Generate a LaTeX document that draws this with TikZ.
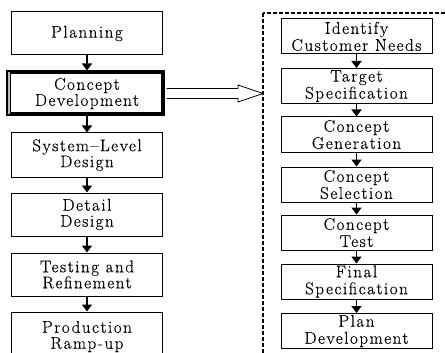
\documentclass[tikz,border=0pt]{standalone}
\usepackage{fontspec}
\setmainfont{Latin Modern Roman}[LetterSpace=9,FakeBold=0.4]
\usetikzlibrary{arrows.meta,calc}
\begin{document}
\begin{tikzpicture}[x=1pt,y=-1pt,
  box/.style={draw, line width=1pt, minimum width=151pt, inner sep=0pt, align=center},
  lbox/.style={box, minimum height=43pt, font=\rmfamily\fontsize{17}{16}\selectfont},
  rbox/.style={box, minimum height=35pt, font=\rmfamily\fontsize{17}{17}\selectfont},
  flow/.style={line width=1.5pt, -{Triangle[width=10pt,length=7pt]}},
  hollow/.style={line width=0.8pt, line join=miter},
  frame/.style={line width=2pt, dash pattern=on 4pt off 2pt}
]
\useasboundingbox (0,0) rectangle (445,353);
\clip (0,0) rectangle (445,353);

% left column
\node[lbox] (plan) at (87,33.5) {Planning};
\node[lbox, line width=4pt, minimum width=154.5pt, minimum height=42pt] (cd) at (85.25,93.5) {};
\node[font=\rmfamily\fontsize{17}{16}\selectfont, align=center, inner sep=0pt] (cdt) at (87,93.5) {Concept\\Development};
\draw[gray!55, line width=2pt] ([xshift=3pt,yshift=-2pt]cd.north west) -- ([xshift=3pt,yshift=2pt]cd.south west);
\draw[line width=0.8pt] ([xshift=4.6pt,yshift=-2pt]cd.north west) -- ([xshift=4.6pt,yshift=2pt]cd.south west);
\node[lbox, minimum height=44pt] (sl) at (87,155) {System–Level\\Design};
\node[lbox] (dd) at (87,214.5) {Detail\\Design};
\node[lbox] (tr) at (87,274.5) {Testing and\\Refinement};
\node[lbox, minimum height=49pt] (pr) at (87,336.5) {Production\\Ramp-up};

\draw[flow] (plan.south) -- (plan.south |- cd.north);
\draw[flow] (sl.north |- cd.south) -- (sl.north);
\draw[flow] (sl.south) -- (dd.north);
\draw[flow] (dd.south) -- (tr.north);
\draw[flow] (tr.south) -- (pr.north);

% dashed frame
\draw[frame] (263,13) rectangle (490,390);
\coordinate (fw) at (263,93.5);

% hollow arrow
\draw[hollow] ([xshift=2pt,yshift=5pt]cd.east) -- ([yshift=5pt]238,93.5 |- cd.east) -- (238,85) -- (fw) -- (238,102) -- ([yshift=-5pt]238,93.5 |- cd.east) -- ([xshift=2pt,yshift=-5pt]cd.east);

% right column
\node[rbox] (id) at (356.5,36.5) {Identify\\Customer Needs};
\node[rbox] (ts) at (356.5,86) {Target\\Specification};
\node[rbox] (cg) at (356.5,134.5) {Concept\\Generation};
\node[rbox] (cs) at (356.5,184.5) {Concept\\Selection};
\node[rbox] (ct) at (356.5,232.5) {Concept\\Test};
\node[rbox] (fs) at (356.5,281.5) {Final\\Specification};
\node[rbox] (pd) at (356.5,331) {Plan\\Development};

\draw[flow] (id.south) -- (ts.north);
\draw[flow] (ts.south) -- (cg.north);
\draw[flow] (cg.south) -- (cs.north);
\draw[flow] (cs.south) -- (ct.north);
\draw[flow] (ct.south) -- (fs.north);
\draw[flow] (fs.south) -- (pd.north);
\end{tikzpicture}
\end{document}
